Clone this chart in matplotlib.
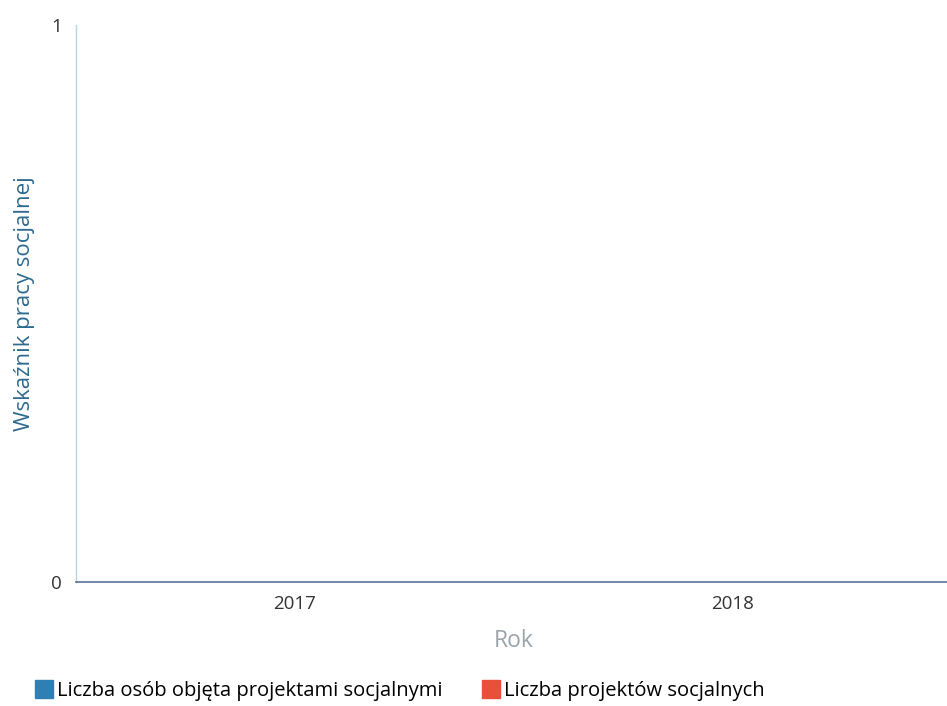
import matplotlib
matplotlib.use("Agg")
import matplotlib.pyplot as plt
import numpy as np

plt.rcParams['font.family'] = ['Open Sans', 'DejaVu Sans']

years = ["2017", "2018"]
series_names = ["Liczba osób objęta projektami socjalnymi", "Liczba projektów socjalnych"]
osoby = [0, 0]
projekty = [0, 0]
colors = ["#2f7fb5", "#e8503a"]

fig = plt.figure(figsize=(9.47, 7.06), dpi=100)
ax = fig.add_axes([0.0803, 0.1756, 0.925, 0.789])

x = np.arange(len(years))
w = 0.3
ax.bar(x - w/2, osoby, w, color=colors[0], label=series_names[0])
ax.bar(x + w/2, projekty, w, color=colors[1], label=series_names[1])

ax.set_xlim(-0.5, 1.5)
ax.set_ylim(0, 1)
ax.set_yticks([0, 1])
ax.set_yticklabels(["0", "1"])
ax.set_xticks(x)
ax.set_xticklabels(years)
ax.tick_params(axis='both', length=0, labelsize=13.5, colors="#333333", pad=9)
ax.tick_params(axis='y', pad=10)

for s in ['top', 'right']:
    ax.spines[s].set_visible(False)
ax.spines['left'].set_color("#b8d4e0")
ax.spines['left'].set_linewidth(1)
ax.spines['bottom'].set_color("#5a6f9a")
ax.spines['bottom'].set_linewidth(1.2)

ax.set_ylabel("Wskaźnik pracy socjalnej", color="#2d6a8f", fontsize=16, labelpad=12)
ax.set_xlabel("Rok", color="#9aa3a8", fontsize=16.5, labelpad=12)

handles = [plt.Rectangle((0, 0), 1, 1, color=c) for c in colors]
fig.legend(handles, series_names, loc='lower left', bbox_to_anchor=(0.018, -0.019),
           ncol=2, frameon=False, fontsize=14.5, handlelength=0.9, handleheight=1.0,
           handletextpad=0.2, columnspacing=1.95)

fig.savefig("out.png", dpi=100)
